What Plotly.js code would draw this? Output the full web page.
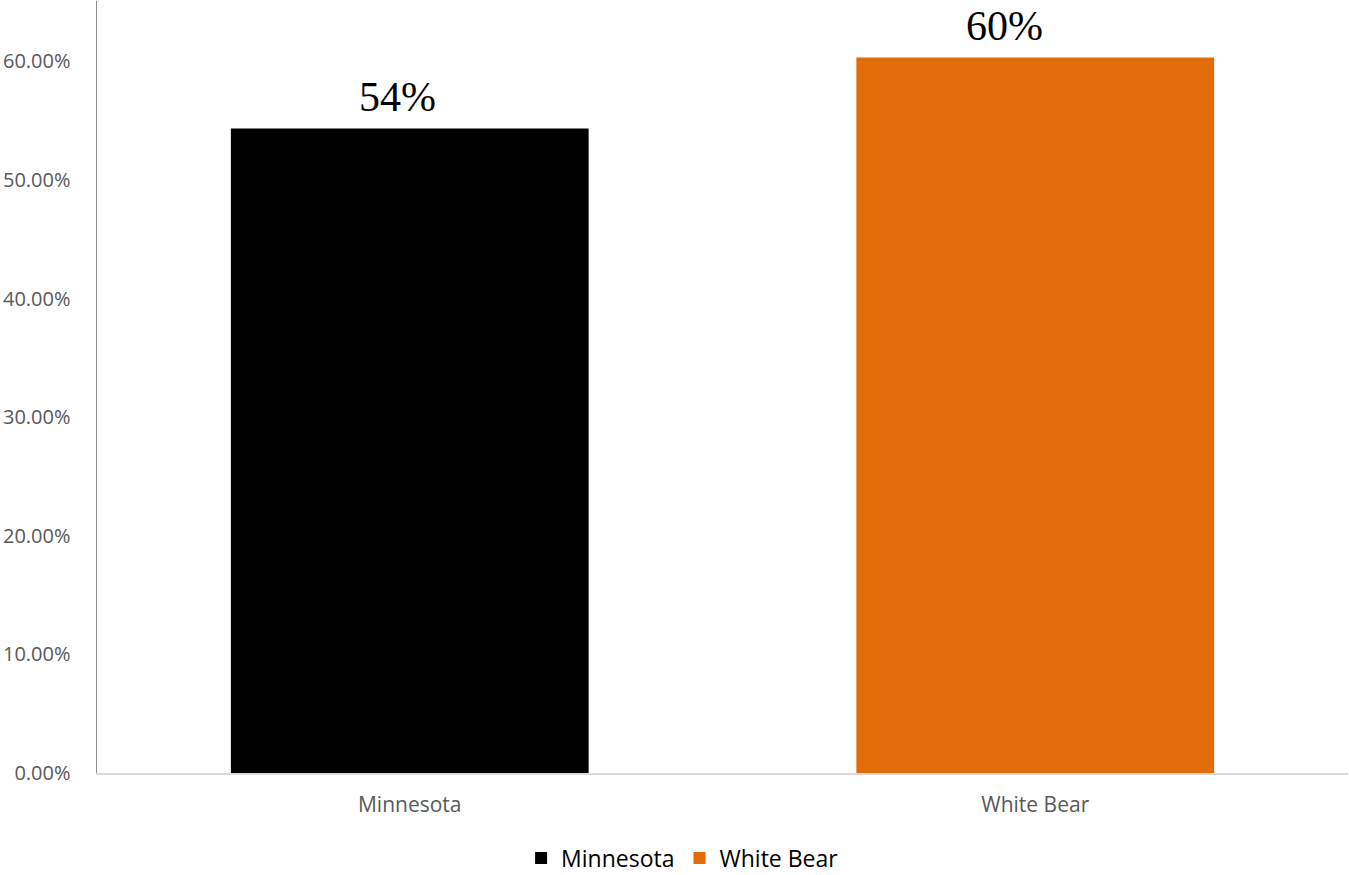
<!DOCTYPE html>
<html>
<head>
<meta charset="utf-8">
<script src="https://cdn.plot.ly/plotly-3.0.1.min.js"></script>
<style>html,body{margin:0;padding:0;background:#fff;}#chart{width:1349px;height:875px;}</style>
</head>
<body>
<div id="chart"></div>
<script>
const categories = ["Minnesota", "White Bear"];
const values = [0.5435, 0.6034];
const valueLabels = ["54%", "60%"];
const colors = ["#000000", "#E36C0A"];

const labelShiftX = [-12, -31];

const traces = categories.map((c, i) => ({
  type: "bar",
  name: c,
  x: [c],
  y: [values[i]],
  width: 0.572,
  marker: {color: colors[i]},
  hoverinfo: "skip"
}));

const annotations = categories.map((c, i) => ({
  x: c, y: values[i], xref: "x", yref: "y",
  text: valueLabels[i], showarrow: false,
  yanchor: "bottom", yshift: 6, xshift: labelShiftX[i],
  font: {family: "Liberation Serif, Times New Roman, serif", size: 42, color: "#000000"}
}));

const layout = {
  width: 1349, height: 875,
  margin: {l: 97, r: 1, t: 1, b: 102},
  paper_bgcolor: "#ffffff", plot_bgcolor: "#ffffff",
  barmode: "overlay",
  showlegend: true,
  legend: {orientation: "h", x: 0.506, xanchor: "center", xref: "container",
           y: 0.0194, yanchor: "middle", yref: "container",
           font: {family: "Open Sans, sans-serif", size: 23, color: "#000000"},
           tracegroupgap: 0},
  xaxis: {
    type: "category", range: [-0.5, 1.5], automargin: false,
    showline: true, linecolor: "#d9d9d9", linewidth: 2,
    showgrid: false, zeroline: false, ticks: "",
    tickfont: {family: "Open Sans, sans-serif", size: 21, color: "#595959"},
    ticklabelstandoff: 12
  },
  yaxis: {
    range: [0, 0.651], automargin: false,
    tickvals: [0, 0.1, 0.2, 0.3, 0.4, 0.5, 0.6],
    tickformat: ".2%",
    showline: true, linecolor: "#8c8c8c", linewidth: 1.5,
    showgrid: false, zeroline: false, ticks: "",
    tickfont: {family: "Open Sans, sans-serif", size: 20, color: "#595959"},
    ticklabelstandoff: 21
  },
  annotations: annotations
};

Plotly.newPlot("chart", traces, layout, {displayModeBar: false, staticPlot: true});
</script>
</body>
</html>
